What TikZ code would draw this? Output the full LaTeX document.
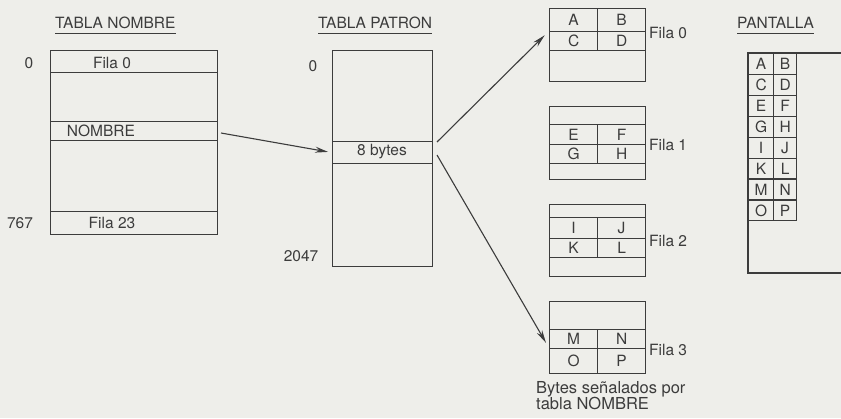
\documentclass[tikz,border=0pt]{standalone}
\usepackage{fontspec}
\setmainfont{TeX Gyre Heros}
\usetikzlibrary{arrows.meta}
\definecolor{paper}{HTML}{EEEEEA}
\definecolor{ink}{HTML}{3C3C3C}
\tikzset{
  frame/.style={draw=ink, line width=1.2pt, inner sep=0pt, anchor=north west},
  cell/.style={frame, font=\fontsize{15.5}{15.5}\selectfont, text=ink},
  lbl/.style={font=\fontsize{15.5}{15.5}\selectfont, text=ink, inner sep=0pt},
  title/.style={lbl, anchor=west},
  uline/.style={draw=ink, line width=1.2pt},
  ptr/.style={draw=ink, line width=1.1pt, -{Stealth[length=13pt,width=6pt]}},
}
\begin{document}
\begin{tikzpicture}[x=1pt,y=-1pt]
\useasboundingbox (0,0) rectangle (841,418);
\fill[paper] (0,0) rectangle (841,418);

% ---------- TABLA NOMBRE ----------
\node[title] (tnT) at (55,23) {TABLA NOMBRE};
\draw[uline] ([yshift=-4.5pt]tnT.south west) -- ([yshift=-4.5pt]tnT.south east);
\node[frame, minimum width=167pt, minimum height=184pt] (tn) at (50,50) {};
\node[frame, minimum width=167pt, minimum height=22pt] (tn0) at (50,50) {};
\node[frame, minimum width=167pt, minimum height=19pt] (tnN) at (50,121) {};
\node[frame, minimum width=167pt, minimum height=23pt] (tn23) at (50,211) {};
\node[lbl] (tn0t) at (112,63) {Fila 0};
\node[lbl] (tnNt) at (101,131) {NOMBRE};
\node[lbl] (tn23t) at (112,223) {Fila 23};
\node[lbl] (tnA) at (29,63) {0};
\node[lbl] (tnB) at (20,223) {767};

% ---------- TABLA PATRON ----------
\node[title] (tpT) at (318,23) {TABLA PATRON};
\draw[uline] ([yshift=-4.5pt]tpT.south west) -- ([yshift=-4.5pt]tpT.south east);
\node[frame, minimum width=100pt, minimum height=216pt] (tp) at (332,50) {};
\node[frame, minimum width=100pt, minimum height=22pt] (tp8) at (332,141) {};
\node[lbl] (tp8t) at (382,152) {8 bytes};
\node[lbl] (tpA) at (313,66) {0};
\node[lbl] (tpB) at (301,256) {2047};

% ---------- bloques de 8 bytes ----------
% Fila 0
\node[frame, minimum width=96pt, minimum height=73pt] (f0) at (549,8) {};
\node[cell, minimum width=48pt, minimum height=23pt] (cA) at (549,8) {A};
\node[cell, minimum width=48pt, minimum height=23pt] (cB) at (597,8) {B};
\node[cell, minimum width=48pt, minimum height=19pt] (cC) at (549,31) {C};
\node[cell, minimum width=48pt, minimum height=19pt] (cD) at (597,31) {D};
\node[lbl, anchor=west] (f0t) at (649,33) {Fila 0};
% Fila 1
\node[frame, minimum width=96pt, minimum height=73pt] (f1) at (549,106) {};
\node[frame, minimum width=96pt, minimum height=18pt] (f1a) at (549,106) {};
\node[cell, minimum width=48pt, minimum height=20pt] (cE) at (549,124) {E};
\node[cell, minimum width=48pt, minimum height=20pt] (cF) at (597,124) {F};
\node[cell, minimum width=48pt, minimum height=19pt] (cG) at (549,144) {G};
\node[cell, minimum width=48pt, minimum height=19pt] (cH) at (597,144) {H};
\node[lbl, anchor=west] (f1t) at (649,145) {Fila 1};
% Fila 2
\node[frame, minimum width=96pt, minimum height=72pt] (f2) at (549,204) {};
\node[cell, minimum width=48pt, minimum height=21pt] (cI) at (549,217) {I};
\node[cell, minimum width=48pt, minimum height=21pt] (cJ) at (597,217) {J};
\node[cell, minimum width=48pt, minimum height=19pt] (cK) at (549,238) {K};
\node[cell, minimum width=48pt, minimum height=19pt] (cL) at (597,238) {L};
\node[lbl, anchor=west] (f2t) at (649,241) {Fila 2};
% Fila 3
\node[frame, minimum width=96pt, minimum height=72pt] (f3) at (549,301) {};
\node[cell, minimum width=48pt, minimum height=19pt] (cM) at (549,329) {M};
\node[cell, minimum width=48pt, minimum height=19pt] (cN) at (597,329) {N};
\node[cell, minimum width=48pt, minimum height=25pt] (cO) at (549,348) {O};
\node[cell, minimum width=48pt, minimum height=25pt] (cP) at (597,348) {P};
\node[lbl, anchor=west] (f3t) at (649,350) {Fila 3};
\node[lbl, align=left, anchor=north west, font=\fontsize{16.5}{16}\selectfont] (cap) at (536,381)
  {Bytes señalados por\\tabla NOMBRE};

% ---------- PANTALLA ----------
\node[title] (scT) at (737,23) {PANTALLA};
\draw[uline] ([yshift=-4.5pt]scT.south west) -- ([yshift=-4.5pt]scT.south east);
\coordinate (scTR) at (845,53);
\coordinate (scBR) at (845,273);
\coordinate (scTL) at (748,53);
\coordinate (scBL) at (748,273);
\draw[draw=ink, line width=1.2pt] (scTR) -- (scTL) -- (scBL) -- (scBR);
\foreach \a/\b [count=\i from 0] in {A/B,C/D,E/F,G/H,I/J,K/L,M/N,O/P}{
  \node[cell, minimum width=25pt, minimum height=20.9pt] (s\a) at (748,53+20.9*\i) {\a};
  \node[cell, minimum width=23pt, minimum height=20.9pt] (s\b) at (773,53+20.9*\i) {\b};
}

% ---------- punteros ----------
\coordinate (p0) at (221,133);
\draw[ptr, shorten >=4pt] (p0) -- (tp8.west);
\coordinate (q1) at (437,142);
\coordinate (q2) at (437,155);
\draw[ptr, shorten >=6pt] (q1) -- (cC.north west);
\draw[ptr, shorten >=6pt] (q2) -- (cO.north west);
\end{tikzpicture}
\end{document}
